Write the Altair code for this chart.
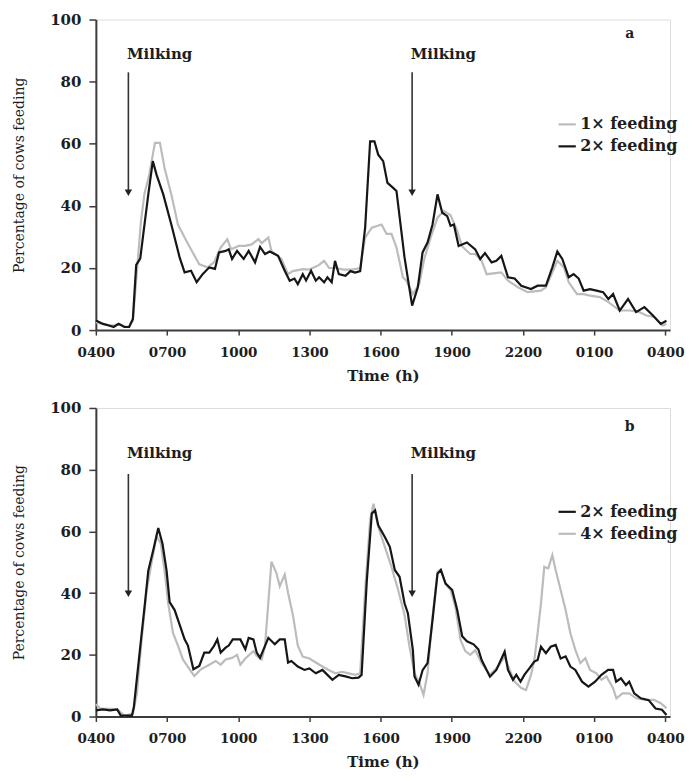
import json
import altair as alt
import pandas as pd

# ---------------- data (hours after 04:00, % of cows feeding) ----------------
# Panel a : 1x feeding (grey) and 2x feeding (black)
a_1x_hours = [0, 0.3, 0.55, 0.75, 0.96, 1.2, 1.4, 1.56, 1.72, 1.9, 2.05, 2.25, 2.49, 2.70, 2.9,
              3.18, 3.46, 3.74, 4.08, 4.36, 4.71, 4.98, 5.26, 5.54, 5.7, 6.02, 6.3, 6.57, 6.85,
              6.99, 7.27, 7.4, 7.82, 8.1, 8.3, 8.72, 9.0, 9.41, 9.62, 9.83, 10.1, 10.45, 10.8,
              11.14, 11.35, 11.63, 12.04, 12.25, 12.46, 12.67, 12.94, 13.08, 13.36, 13.63, 13.84,
              14.12, 14.4, 14.67, 14.95, 15.23, 15.43, 15.78, 15.99, 16.26, 16.47, 17.09, 17.37,
              17.79, 18.2, 18.76, 18.97, 19.45, 19.73, 19.93, 20.28, 20.56, 20.83, 21.24, 21.6,
              22.08, 22.5, 22.91, 23.2, 23.54, 23.88, 24.05]
a_1x_values = [2.5, 2, 1.5, 1.5, 2, 1.2, 1, 3, 18, 35, 44, 50, 60.3, 60.3, 52,
               43.7, 34, 29.8, 25, 21.2, 20.2, 21.8, 26.6, 29.3, 26, 27.1, 27.1, 27.6, 29.3,
               28, 29.8, 25.5, 22.9, 18, 19, 19.6, 19.5, 21, 22.3, 20, 20, 19.5, 19.5,
               20, 29.8, 33, 34, 31, 31, 26.6, 17, 16, 11.6, 14.8, 22.9,
               30, 36.2, 38.4, 37, 32, 27, 24.5, 24.5, 22.3, 18, 18.6, 15.9,
               13.8, 12.2, 12.7, 13.8, 22.3, 20.2, 15.4, 11.6, 11.6, 11.1, 10.6, 9.0,
               6.3, 6.3, 5.8, 4.7, 4.2, 1.5, 2.0]

a_2x_hours = [0, 0.3, 0.55, 0.75, 0.96, 1.2, 1.4, 1.56, 1.70, 1.87, 2.0, 2.21, 2.40, 2.56, 2.84,
              3.18, 3.53, 3.74, 4.01, 4.25, 4.5, 4.78, 5.02, 5.19, 5.47, 5.6, 5.74, 5.95, 6.23,
              6.44, 6.71, 6.92, 7.13, 7.33, 7.68, 7.96, 8.17, 8.37, 8.51, 8.72, 8.86, 9.07, 9.27,
              9.41, 9.62, 9.76, 9.94, 10.08, 10.24, 10.52, 10.73, 10.93, 11.14, 11.35, 11.56,
              11.74, 11.9, 12.11, 12.29, 12.53, 12.67, 13.01, 13.33, 13.57, 13.77, 13.98, 14.19,
              14.4, 14.6, 14.81, 14.95, 15.09, 15.29, 15.64, 15.99, 16.2, 16.4, 16.68, 16.88,
              17.09, 17.37, 17.65, 17.93, 18.34, 18.62, 18.97, 19.24, 19.45, 19.66, 19.93, 20.14,
              20.35, 20.56, 20.83, 21.1, 21.38, 21.6, 21.8, 22.08, 22.43, 22.77, 23.12, 23.47,
              23.81, 24.05]
a_2x_values = [3.1, 2, 1.5, 1, 2, 1, 1, 3.6, 21, 23, 31, 43.7, 54.4, 50, 43.7,
               34, 23.4, 18.6, 19.1, 15.4, 18, 20.2, 19.7, 25, 25.5, 26, 22.9, 25.5, 22.9,
               25.5, 21.8, 26.8, 24.5, 25.3, 23.9, 19.1, 15.9, 16.6, 14.8, 18, 16, 19.1, 15.9,
               17, 15.4, 17, 15.4, 22.3, 18, 17.5, 19, 18.5, 19, 33, 60.8,
               60.8, 56.5, 54.4, 47.4, 45.8, 44.8, 23.4, 7.9, 13.8, 25, 28.2, 34,
               43.7, 37.8, 36.7, 33.6, 34, 27.1, 28.2, 26, 22.9, 24.8, 21.8, 22.3,
               23.9, 17, 16.6, 14.3, 13.2, 14.3, 14.3, 20.2, 25.3, 22.9, 17, 18,
               16.6, 12.7, 13.2, 12.7, 12.2, 10, 11.6, 6.3, 10, 5.8, 7.4, 4.8,
               2, 3]

# Panel b : 2x feeding (black) and 4x feeding (grey)
b_2x_hours = [0, 0.3, 0.6, 0.9, 1.05, 1.52, 1.6, 1.87, 2.08, 2.21, 2.42, 2.63, 2.81, 2.98, 3.11,
              3.32, 3.53, 3.74, 3.88, 4.11, 4.36, 4.57, 4.78, 4.98, 5.12, 5.26, 5.47, 5.6, 5.77,
              6.09, 6.3, 6.44, 6.64, 6.78, 6.92, 7.13, 7.27, 7.54, 7.75, 7.96, 8.1, 8.24, 8.51,
              8.79, 9.0, 9.27, 9.55, 9.76, 9.97, 10.24, 10.52, 10.8, 11.07, 11.2, 11.42, 11.63,
              11.77, 11.9, 12.18, 12.39, 12.6, 12.8, 13.01, 13.15, 13.36, 13.43, 13.6, 13.77,
              13.98, 14.19, 14.4, 14.54, 14.74, 15.02, 15.23, 15.44, 15.64, 15.92, 16.12, 16.26,
              16.61, 16.88, 17.23, 17.37, 17.58, 17.72, 17.9, 18.06, 18.27, 18.48, 18.62, 18.76,
              18.97, 19.17, 19.38, 19.59, 19.8, 20.0, 20.21, 20.49, 20.76, 21.04, 21.31, 21.59,
              21.8, 21.93, 22.13, 22.34, 22.48, 22.69, 22.97, 23.3, 23.59, 23.86, 24.05]
b_2x_values = [2, 2.3, 2, 2.3, 0.3, 0.3, 3, 22.6, 37.6, 47.3, 54, 61.1, 55.9, 47.3, 37.1,
               34.5, 29.8, 25, 23, 15.3, 16.4, 20.7, 20.7, 22.9, 25, 20.7, 22.3, 23, 25,
               25, 21.8, 25.5, 25, 20.7, 19, 22.9, 25.5, 23.4, 25, 25, 17.5, 18, 16.2,
               15.1, 15.6, 14, 15.1, 13.5, 11.9, 13.5, 13, 12.4, 12.6, 13.5, 44, 65.8,
               66.8, 62, 58.2, 55, 47.5, 45.3, 36.7, 33.5, 21.6, 13, 10.3, 15,
               17.3, 31.3, 46.3, 47.5, 43.1, 41, 34.5, 26, 24.4, 23.4, 21.8, 18.3,
               12.9, 15.1, 21, 15.1, 11.9, 13.5, 11.3, 13.5, 15.6, 17.8, 18.3, 22.6,
               20.5, 22.6, 23.2, 18.8, 19.5, 16.2, 15.1, 11.3, 9.7, 11.3, 13.5, 15.1,
               15.1, 11.3, 12.4, 10.2, 11.3, 7.5, 5.9, 5.3, 2.6, 2.2, 0.5]

b_4x_hours = [0, 0.2, 0.6, 0.9, 1.2, 1.56, 1.73, 1.94, 2.14, 2.35, 2.56, 2.74, 2.91, 3.05, 3.25,
              3.46, 3.67, 3.95, 4.15, 4.43, 4.78, 5.05, 5.26, 5.47, 5.74, 5.95, 6.09, 6.3, 6.64,
              6.78, 6.99, 7.13, 7.4, 7.61, 7.75, 7.96, 8.1, 8.31, 8.51, 8.72, 9.0, 9.27, 9.55,
              9.83, 10.1, 10.38, 10.65, 10.93, 11.14, 11.35, 11.56, 11.7, 11.9, 12.18, 12.46,
              12.74, 13.01, 13.22, 13.43, 13.64, 13.81, 13.98, 14.19, 14.4, 14.54, 14.74, 14.95,
              15.15, 15.37, 15.57, 15.78, 15.99, 16.26, 16.61, 16.95, 17.23, 17.44, 17.65, 17.93,
              18.13, 18.34, 18.48, 18.62, 18.76, 18.9, 19.07, 19.24, 19.38, 19.59, 19.8, 20.0,
              20.21, 20.42, 20.63, 20.83, 21.1, 21.31, 21.52, 21.8, 21.94, 22.2, 22.48, 22.77,
              23.2, 23.52, 23.81, 24.05]
b_4x_values = [4, 2.5, 2.5, 2.3, 0.3, 0.9, 7.6, 25.7, 40.8, 50, 58.5, 56, 46.3, 36.6, 27.1,
               23, 18.5, 15.3, 13.1, 15.3, 16.8, 18, 16.8, 18.5, 19, 20, 16.8, 18.8, 21.2,
               19.6, 18.5, 22.9, 50.2, 46.5, 42.2, 46, 40.1, 32.7, 23, 19.4, 18.8, 17.5, 16.2,
               15, 14, 14.5, 14, 13.5, 14, 41, 63.7, 69, 61.5, 55, 48.5,
               41, 33, 22.6, 14, 10.8, 7, 14, 32.4, 46.9, 47.5, 43, 41,
               35.6, 24.8, 21.2, 20, 21.5, 17.3, 13.5, 16.2, 19.4, 15.1, 11.3, 9.2,
               8.6, 13.5, 18.3, 27, 36.7, 48.5, 48, 52.3, 47.5, 41, 34.5, 27,
               21.6, 17.3, 18.9, 15.1, 14, 11.9, 13, 9.2, 5.9, 7.5, 7.5, 5.9,
               5.4, 5.4, 4.3, 2.7]

x_tick_values = [0, 3, 6, 9, 12, 15, 18, 21, 24]
x_tick_labels = ["0400", "0700", "1000", "1300", "1600", "1900", "2200", "0100", "0400"]
y_tick_values = [0, 20, 40, 60, 80, 100]

milking_hours = [1.37, 13.33]

# ---------------- styling ----------------
FONT = "DejaVu Serif"
BLACK = "#161616"
GREY = "#bcbcbc"
AXIS_C = "#3c3c3c"
TEXT_C = "#1e1e1e"

label_expr = json.dumps(x_tick_labels) + "[round(datum.value / 3)]"


def make_panel(series, legend_order, letter, milk_label_v, arrow_top, arrow_tip, height,
               legend_y):
    frames = []
    for name, hrs, vals, _c in series:
        frames.append(pd.DataFrame({"h": hrs, "v": vals, "s": name}))
    colors = {name: c for name, _h, _v, c in series}

    x_enc = alt.X(
        "h:Q",
        scale=alt.Scale(domain=[0, 24.2], nice=False, zero=False),
        axis=alt.Axis(
            values=x_tick_values, labelExpr=label_expr, title="Time (h)", grid=False,
            labelFont=FONT, labelFontSize=13.5, labelFontWeight="bold", labelColor=TEXT_C,
            labelFlush=False, labelOverlap=False, labelPadding=10,
            titleFont=FONT, titleFontSize=15, titleFontWeight="bold", titleColor=TEXT_C,
            titlePadding=10, domainColor=AXIS_C, domainWidth=2, tickColor=AXIS_C,
            tickWidth=1.5, tickSize=5,
        ),
    )
    y_enc = alt.Y(
        "v:Q",
        scale=alt.Scale(domain=[0, 100], nice=False),
        axis=alt.Axis(
            values=y_tick_values, title="Percentage of cows feeding", grid=False,
            labelFont=FONT, labelFontSize=15, labelFontWeight="bold", labelColor=TEXT_C,
            labelPadding=8, titleFont=FONT, titleFontSize=14, titleFontWeight="normal",
            titleColor=TEXT_C, titlePadding=23, domainColor=AXIS_C, domainWidth=2,
            tickColor=AXIS_C, tickWidth=1.5, tickSize=7,
        ),
    )
    color_enc = alt.Color(
        "s:N",
        scale=alt.Scale(domain=legend_order, range=[colors[n] for n in legend_order]),
        legend=alt.Legend(
            title=None, orient="none", legendX=462, legendY=legend_y, padding=0,
            symbolType="stroke", symbolSize=300, symbolStrokeWidth=2.2,
            labelFont=FONT, labelFontSize=16, labelFontWeight="bold", labelColor=TEXT_C,
            labelOffset=3, rowPadding=4,
        ),
    )

    layers = []
    for fr in frames:
        layers.append(
            alt.Chart(fr).mark_line(strokeWidth=2.2, interpolate="linear")
            .encode(x=x_enc, y=y_enc, color=color_enc)
        )

    arrows = pd.DataFrame({"h": milking_hours, "v": [arrow_top] * 2, "v2": [arrow_tip + 2] * 2})
    layers.append(
        alt.Chart(arrows).mark_rule(color="#333333", strokeWidth=1.6)
        .encode(x=x_enc, y=y_enc, y2="v2:Q")
    )
    heads = pd.DataFrame({"h": milking_hours, "v": [arrow_tip + 1.6] * 2})
    layers.append(
        alt.Chart(heads).mark_point(shape="triangle-down", filled=True, size=55,
                                    color="#222222", opacity=1)
        .encode(x=x_enc, y=y_enc)
    )
    texts = pd.DataFrame({"h": [h - 0.06 for h in milking_hours], "v": [milk_label_v] * 2,
                          "t": ["Milking", "Milking"]})
    layers.append(
        alt.Chart(texts).mark_text(font=FONT, fontSize=15, fontWeight="bold", align="left",
                                   baseline="middle", color=TEXT_C)
        .encode(x=x_enc, y=y_enc, text="t:N")
    )
    lt = pd.DataFrame({"h": [22.5], "v": [letter[1]], "t": [letter[0]]})
    layers.append(
        alt.Chart(lt).mark_text(font=FONT, fontSize=14, fontWeight="bold", align="center",
                                baseline="middle", color=TEXT_C)
        .encode(x=x_enc, y=y_enc, text="t:N")
    )
    return alt.layer(*layers).properties(width=575, height=height).resolve_scale(color="shared")


panel_a = make_panel(
    [("1× feeding", a_1x_hours, a_1x_values, GREY),
     ("2× feeding", a_2x_hours, a_2x_values, BLACK)],
    ["1× feeding", "2× feeding"], ("a", 95.5), 89, 83, 42.6, 311, 95,
)
panel_b = make_panel(
    [("4× feeding", b_4x_hours, b_4x_values, GREY),
     ("2× feeding", b_2x_hours, b_2x_values, BLACK)],
    ["2× feeding", "4× feeding"], ("b", 93.8), 85.4, 78.6, 38.2, 309, 94,
)

chart = (
    alt.vconcat(panel_a, panel_b, spacing=16)
    .resolve_scale(color="independent")
    .resolve_legend(color="independent")
    .properties(padding={"left": 4, "top": 3, "right": 0, "bottom": 0})
    .configure_view(stroke=None)
    .configure(background="white")
)

chart.save("out.html", embed_options={"renderer": "svg", "actions": False})
